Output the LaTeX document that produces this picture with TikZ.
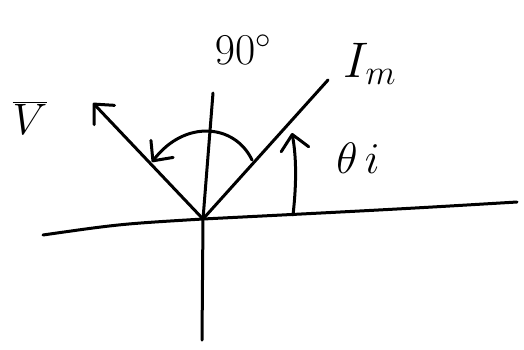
\RequirePackage{fix-cm}
\documentclass[tikz,border=0pt]{standalone}
\usetikzlibrary{arrows.meta}
\tikzset{
  pen/.style={line width=3pt, line cap=round, line join=round},
  lbl/.style={font=\fontsize{44}{50}\selectfont, inner sep=0pt},
}
\begin{document}
\begin{tikzpicture}[>={Straight Barb[length=15pt,width=28pt,round]}, x=1pt, y=-1pt]
    \useasboundingbox (0,0) rectangle (524,349);
    \coordinate (O) at (203,219);
    \coordinate (axL) at (43,235);
    \coordinate (axR) at (517,202);
    \coordinate (vtop) at (213,93);
    \coordinate (vbot) at (202,340);
    \coordinate (Imtip) at (328,80);
    \coordinate (Vtip) at (93,103);
    \coordinate (arcA) at (252,160);
    \coordinate (arcB) at (152,162);
    \coordinate (thA) at (293,215);
    \coordinate (thB) at (292,133);
    \draw[pen] (axL) .. controls (120,224) .. (O) .. controls (400,209) .. (axR);
    \draw[pen] (vtop) -- (O) -- (vbot);
    \draw[pen] (O) -- (Imtip);
    \draw[pen,->] (O) -- (Vtip);
    \draw[pen,->] (arcA) .. controls (235,124) and (185,119) .. (arcB);
    \draw[pen,->] (thA) .. controls (297,180) and (296,155) .. (thB);
\node[lbl] (lblV) at (30,118) {$\overline{V}$};
\node[lbl] (lblAngle) at (243,50) {$90^\circ$};
\node[lbl,font=\fontsize{50}{56}\selectfont] (lblIm) at (370,64) {$I_m$};
\node[lbl] (lblTheta) at (358,158) {$\theta\,i$};
\end{tikzpicture}
\end{document}
